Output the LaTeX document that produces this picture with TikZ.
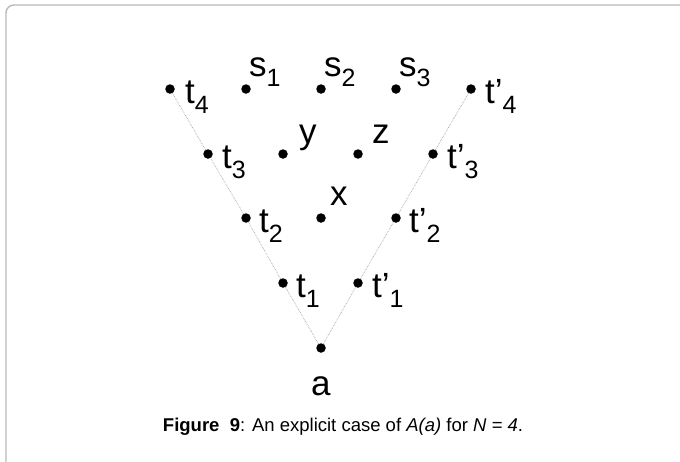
\documentclass[tikz,border=0pt]{standalone}
\usepackage{fontspec}
\setmainfont{Liberation Sans}
\begin{document}
\begin{tikzpicture}[x=1pt,y=-1pt,
  pt/.style={circle,fill=black,inner sep=0pt,minimum size=9.5pt},
  lbl/.style={anchor=base west,inner sep=0pt,font=\fontsize{35}{40}\selectfont},
  edge/.style={draw=gray!70,densely dotted,line width=0.7pt},
  frame/.style={draw=gray!55,line width=1.4pt,rounded corners=8pt}]
\useasboundingbox (0,0) rectangle (680,461);
\newcommand{\sub}[1]{\raisebox{-0.3em}{\fontsize{25}{28}\selectfont #1}}
\draw[frame] (6,470) -- (6,5) -- (690,5);
% dots
\node[pt] (a) at (321,348) {};
\node[pt] (t1) at (283,283) {};
\node[pt] (t2) at (246,218) {};
\node[pt] (t3) at (208,154) {};
\node[pt] (t4) at (170,89) {};
\node[pt] (u1) at (358,283) {};
\node[pt] (u2) at (396,218) {};
\node[pt] (u3) at (433,154) {};
\node[pt] (u4) at (471,89) {};
\node[pt] (s1) at (246,89) {};
\node[pt] (s2) at (321,89) {};
\node[pt] (s3) at (396,89) {};
\node[pt] (y) at (283,154) {};
\node[pt] (z) at (358,154) {};
\node[pt] (x) at (321,218) {};
% edges
\draw[edge] (a) -- (t1) -- (t2) -- (t3) -- (t4);
\draw[edge] (a) -- (u1) -- (u2) -- (u3) -- (u4);
% labels
\node[lbl] (lt4) at (185,103) {t\sub{4}};
\node[lbl] (lt3) at (222,168) {t\sub{3}};
\node[lbl] (lt2) at (259,232) {t\sub{2}};
\node[lbl] (lt1) at (296,297) {t\sub{1}};
\node[lbl] (lu4) at (485,103) {t’\sub{4}};
\node[lbl] (lu3) at (447,168) {t’\sub{3}};
\node[lbl] (lu2) at (409,232) {t’\sub{2}};
\node[lbl] (lu1) at (372,297) {t’\sub{1}};
\node[lbl] (ls1) at (249,76) {s\sub{1}};
\node[lbl] (ls2) at (324,76) {s\sub{2}};
\node[lbl] (ls3) at (399,76) {s\sub{3}};
\node[lbl] (ly) at (299,143) {y};
\node[lbl] (lz) at (372,143) {z};
\node[lbl] (lx) at (330,205) {x};
\node[lbl] (la) at (311,395) {a};
\node[anchor=base,inner sep=0pt,font=\fontsize{18.5}{20}\selectfont] (cap) at (343,431)
  {\textbf{Figure\ \ 9}: An explicit case of \textit{A(a)} for \textit{N = 4}.};
\end{tikzpicture}
\end{document}
